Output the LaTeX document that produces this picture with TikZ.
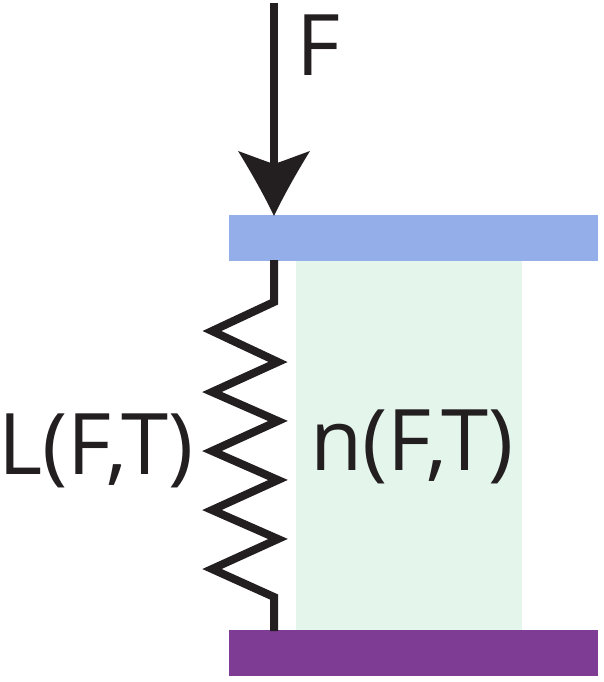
\documentclass[tikz,border=0pt]{standalone}
\usepackage{fontspec}
\setmainfont{Open Sans}
\usetikzlibrary{positioning}
\begin{document}
\begin{tikzpicture}[x=1pt,y=-1pt,
		font={\fontsize{85}{85}\selectfont},
		plate/.style={anchor=north west,inner sep=0,minimum width=369,minimum height=46},
		gasbox/.style={anchor=north west,inner sep=0,fill=gasgreen,minimum width=226,minimum height=370},
		wire/.style={line width=8,draw=inkblack},
		lbl/.style={text=inkblack,inner sep=0},
	]
	\definecolor{inkblack}{RGB}{35,31,32}
	\definecolor{gasgreen}{RGB}{228,245,235}
	\useasboundingbox (0,0) rectangle (603,682);
	\node[gasbox] (gas) at (296,261) {};
	\node[plate,fill={rgb,255:red,148;green,174;blue,233}] (top) at (229,215) {};
	\node[plate,fill={rgb,255:red,127;green,60;blue,148}] (bottom) at (229,630) {};
	\coordinate (start) at (274,3);
	\coordinate (tip) at (274,216);
	\coordinate (sa) at (274,260);
	\coordinate (sb) at (274,631);
	% force arrow
	\draw[wire] (start) -- (274,170);
	\fill[inkblack] (tip) .. controls (265,197) and (251,172) .. (238,151) .. controls (252,156) and (262,160) .. (274,164) .. controls (286,160) and (296,156) .. (310,151) .. controls (297,172) and (283,197) .. (tip) -- cycle;
	% spring
	\draw[wire,miter limit=10] (sa) -- (274,302) -- (212,331) -- (278,362) -- (212,392) -- (278,421) -- (212,451) -- (278,480) -- (212,510) -- (278,539) -- (212,569) -- (274,597) -- (sb);
	\node[lbl] (load) at (96,451) {L(F,T)};
	\node[lbl] (dens) at (412,447) {n(F,T)};
	\node[lbl] (force) at (318,45) {F};
\end{tikzpicture}
\end{document}
